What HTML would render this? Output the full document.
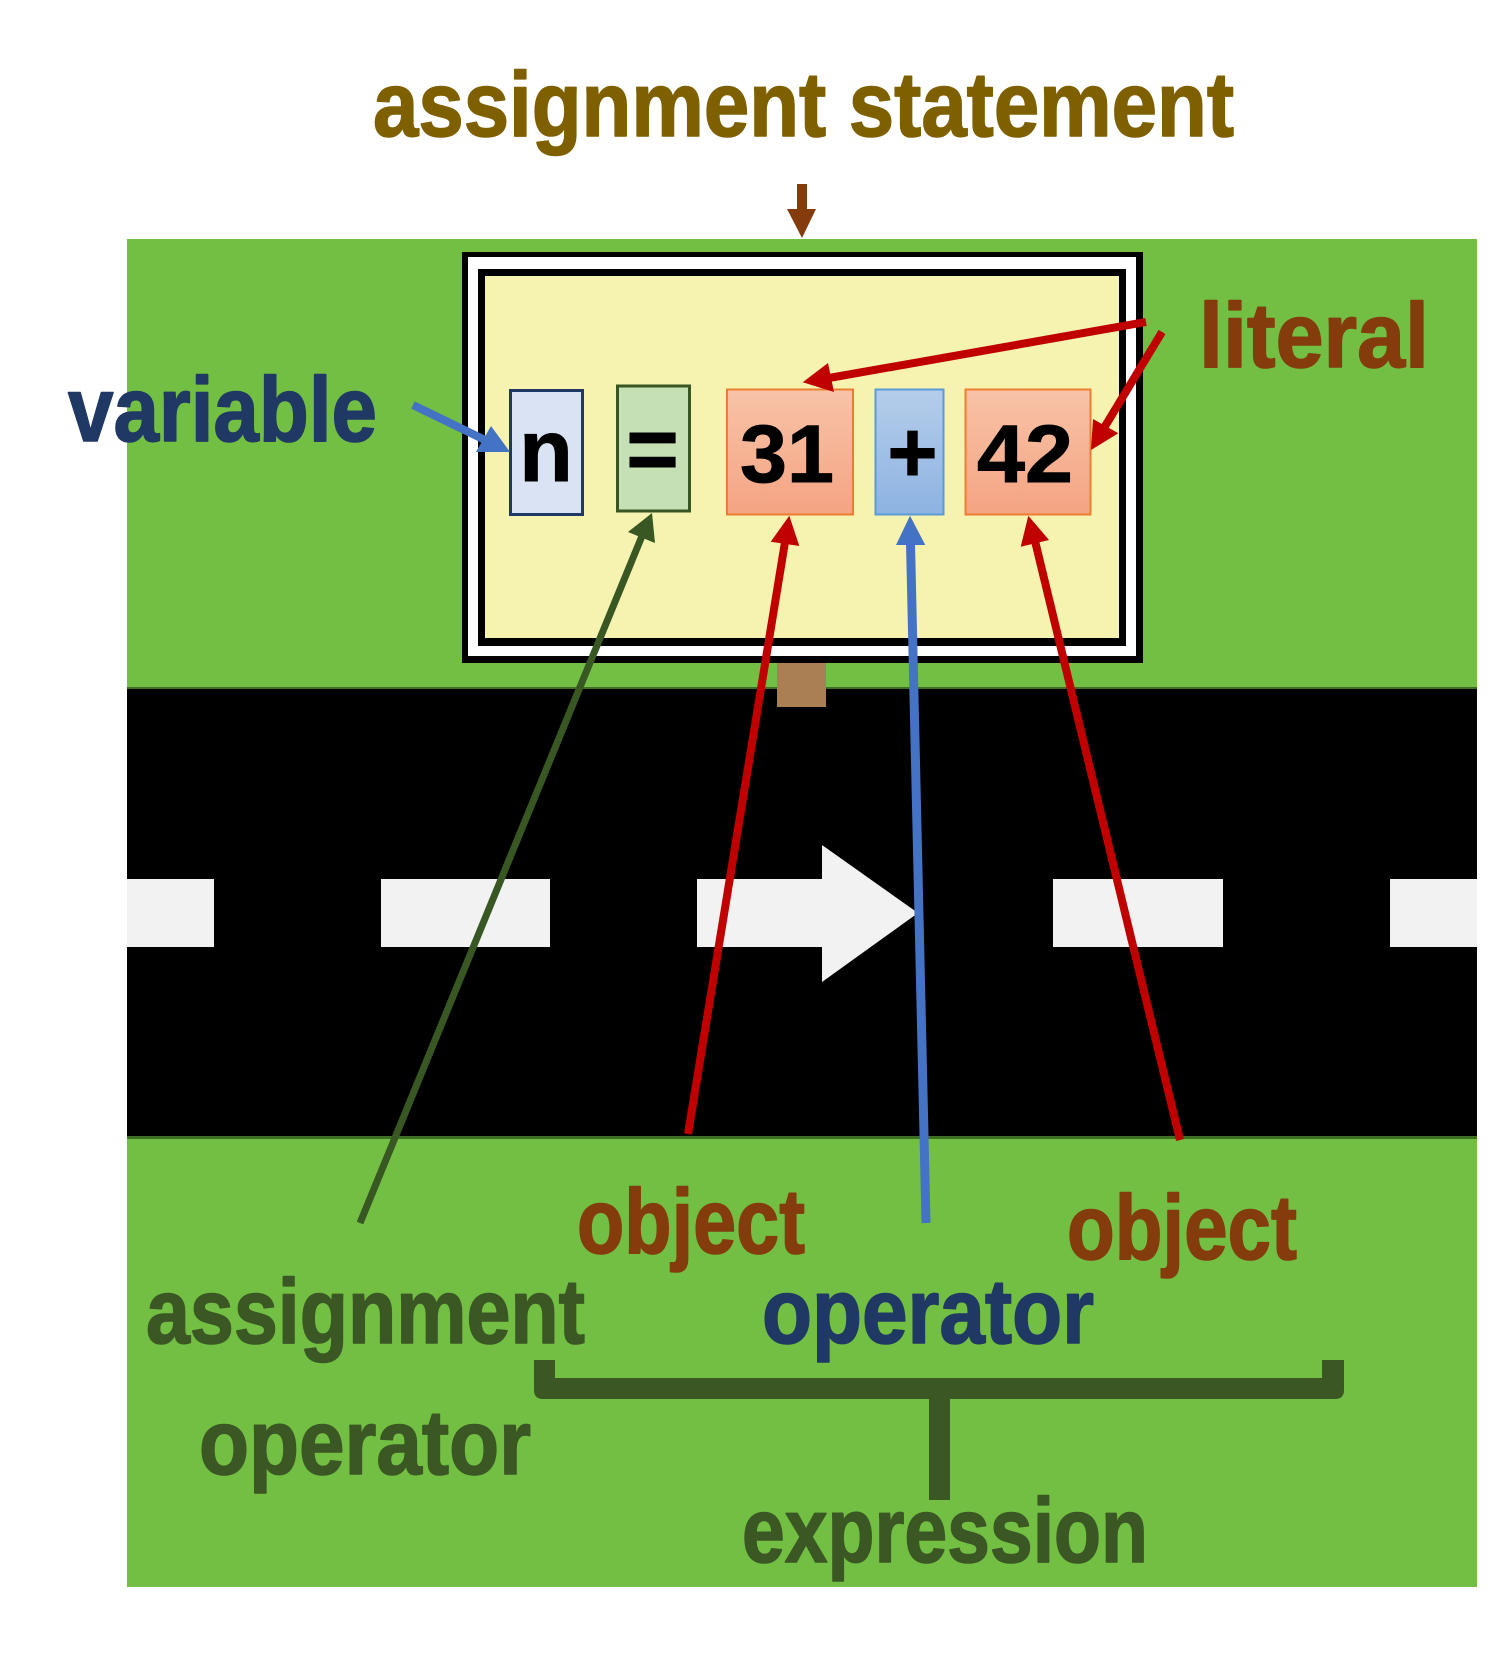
<!DOCTYPE html>
<html>
<head>
<meta charset="utf-8">
<style>
  html, body { margin: 0; padding: 0; background: #ffffff; }
  svg { display: block; }
  .lbl { font-family: "Liberation Sans", "DejaVu Sans", sans-serif; font-weight: bold; font-size: 92px; stroke-width: 1.6px; stroke-linejoin: round; }
  .box { font-family: "Liberation Sans", "DejaVu Sans", sans-serif; font-weight: bold; fill: #000; stroke: #000; stroke-width: 1px; }
</style>
</head>
<body>
<svg width="1497" height="1658" viewBox="0 0 1497 1658" xmlns="http://www.w3.org/2000/svg">
  <defs>
    <linearGradient id="gOr" x1="0" y1="0" x2="0" y2="1">
      <stop offset="0" stop-color="#F8C3A8"/>
      <stop offset="1" stop-color="#F4A482"/>
    </linearGradient>
    <linearGradient id="gBl" x1="0" y1="0" x2="0" y2="1">
      <stop offset="0" stop-color="#B5CDEA"/>
      <stop offset="1" stop-color="#8DB3E2"/>
    </linearGradient>
  </defs>

  <rect x="0" y="0" width="1497" height="1658" fill="#ffffff"/>

  <!-- green field -->
  <rect x="127" y="239" width="1350" height="1348" fill="#72BF44"/>

  <!-- road -->
  <rect x="127" y="687" width="1350" height="452" fill="#3F6E25"/>
  <rect x="127" y="689" width="1350" height="447" fill="#000000"/>

  <!-- lane dashes -->
  <rect x="127" y="879" width="87" height="68" fill="#F2F2F2"/>
  <rect x="381" y="879" width="169" height="68" fill="#F2F2F2"/>
  <rect x="697" y="879" width="126" height="68" fill="#F2F2F2"/>
  <polygon points="822,845 822,982 918,913" fill="#F2F2F2"/>
  <rect x="1053" y="879" width="170" height="68" fill="#F2F2F2"/>
  <rect x="1390" y="879" width="87" height="68" fill="#F2F2F2"/>

  <!-- sign post -->
  <rect x="777" y="663" width="49" height="44" fill="#A97F53"/>

  <!-- sign frame -->
  <rect x="462" y="252" width="681" height="411" fill="#000000"/>
  <rect x="468" y="257" width="668" height="399" fill="#ffffff"/>
  <rect x="478" y="269" width="648" height="377" fill="#000000"/>
  <rect x="485" y="276" width="634" height="362" fill="#F6F3B0"/>

  <!-- boxes -->
  <rect x="510.5" y="390.5" width="72" height="124" fill="#DAE3F3" stroke="#1F3864" stroke-width="3"/>
  <rect x="617.5" y="386" width="72" height="125" fill="#C5E0B4" stroke="#375623" stroke-width="3"/>
  <rect x="727" y="389.5" width="126" height="125" fill="url(#gOr)" stroke="#ED7D31" stroke-width="2"/>
  <rect x="875.5" y="389.5" width="68" height="125" fill="url(#gBl)" stroke="#5B9BD5" stroke-width="2"/>
  <rect x="965.5" y="389.5" width="125" height="125" fill="url(#gOr)" stroke="#ED7D31" stroke-width="2"/>

  <text class="box" x="546" y="481" font-size="88" text-anchor="middle">n</text>
  <text class="box" x="652.5" y="480" font-size="90" text-anchor="middle">=</text>
  <text class="box" x="787" y="482" font-size="82" text-anchor="middle" textLength="94" lengthAdjust="spacingAndGlyphs">31</text>
  <text class="box" x="912.5" y="482" font-size="86" text-anchor="middle">+</text>
  <text class="box" x="1025" y="482" font-size="82" text-anchor="middle" textLength="96" lengthAdjust="spacingAndGlyphs">42</text>

  <!-- brown arrow (assignment statement) -->
  <rect x="797" y="184" width="10" height="27" fill="#843C0C"/>
  <polygon points="787,209 816,209 802,238" fill="#843C0C"/>

  <!-- variable arrow -->
  <line x1="413" y1="405" x2="485" y2="440" stroke="#4472C4" stroke-width="8"/>
  <polygon points="510,452 476,452 491,426" fill="#4472C4"/>

  <!-- literal arrows -->
  <line x1="1146" y1="322" x2="829" y2="378" stroke="#C00000" stroke-width="8"/>
  <polygon points="802.7,382.3 828,363 834,392" fill="#C00000"/>
  <line x1="1162" y1="332" x2="1104" y2="428" stroke="#C00000" stroke-width="8"/>
  <polygon points="1091,450 1093,419 1118.3,433.3" fill="#C00000"/>

  <!-- assignment operator arrow -->
  <line x1="360" y1="1223" x2="642" y2="536" stroke="#385723" stroke-width="7"/>
  <polygon points="652,513 628,532 655,543" fill="#385723"/>

  <!-- object 31 arrow -->
  <line x1="688" y1="1134" x2="785" y2="542" stroke="#C00000" stroke-width="8"/>
  <polygon points="789.3,515.7 770.7,541.7 799.3,546" fill="#C00000"/>

  <!-- operator + arrow -->
  <line x1="926" y1="1223" x2="910.5" y2="543" stroke="#4472C4" stroke-width="9"/>
  <polygon points="910,515.7 896,545 925.3,545" fill="#4472C4"/>

  <!-- object 42 arrow -->
  <line x1="1180" y1="1140" x2="1035" y2="541" stroke="#C00000" stroke-width="8"/>
  <polygon points="1028.3,515.7 1020.7,546.7 1049,540" fill="#C00000"/>

  <!-- bracket -->
  <path d="M534,1360 H555 V1378 H1322 V1360 H1344 V1390 Q1344,1399 1335,1399 H950 V1500 H929 V1399 H543 Q534,1399 534,1390 Z" fill="#3A5724"/>

  <!-- labels -->
  <text class="lbl" x="373" y="136" fill="#7F6000" stroke="#7F6000" textLength="861" lengthAdjust="spacingAndGlyphs">assignment statement</text>
  <text class="lbl" x="68" y="441" fill="#203864" stroke="#203864" textLength="309" lengthAdjust="spacingAndGlyphs">variable</text>
  <text class="lbl" x="1199" y="367" fill="#843C0C" stroke="#843C0C" textLength="230" lengthAdjust="spacingAndGlyphs">literal</text>
  <text class="lbl" x="577" y="1253" fill="#843C0C" stroke="#843C0C" textLength="228" lengthAdjust="spacingAndGlyphs">object</text>
  <text class="lbl" x="1067" y="1259" fill="#843C0C" stroke="#843C0C" textLength="230" lengthAdjust="spacingAndGlyphs">object</text>
  <text class="lbl" x="146" y="1343" fill="#3A5724" stroke="#3A5724" textLength="439" lengthAdjust="spacingAndGlyphs">assignment</text>
  <text class="lbl" x="199" y="1474" fill="#3A5724" stroke="#3A5724" textLength="332" lengthAdjust="spacingAndGlyphs">operator</text>
  <text class="lbl" x="762" y="1343" fill="#203864" stroke="#203864" textLength="332" lengthAdjust="spacingAndGlyphs">operator</text>
  <text class="lbl" x="742" y="1562" fill="#3A5724" stroke="#3A5724" textLength="406" lengthAdjust="spacingAndGlyphs">expression</text>
</svg>
</body>
</html>
